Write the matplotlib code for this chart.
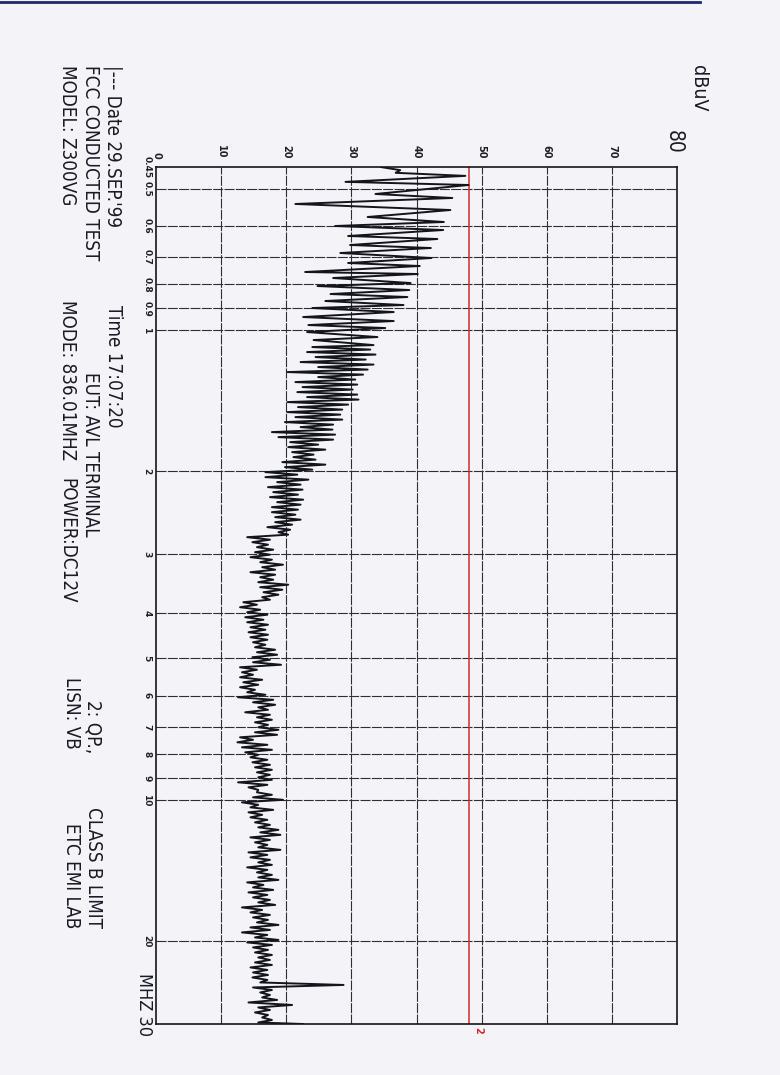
import matplotlib
matplotlib.use('Agg')
import matplotlib.pyplot as plt
from matplotlib import font_manager as fm
from matplotlib.ticker import NullLocator, NullFormatter
from matplotlib.lines import Line2D

# ---------------- data ----------------
freq_mhz = [
    0.450, 0.457, 0.463, 0.470, 0.484, 0.4915, 0.5136, 0.5238, 0.5394, 0.5556,
    0.5749, 0.5892, 0.6009, 0.6128, 0.6310, 0.6404, 0.6595, 0.6693, 0.6859, 0.7029,
    0.7203, 0.7310, 0.7528, 0.7602, 0.7753, 0.7946, 0.8064, 0.8223, 0.8386, 0.8510,
    0.8678, 0.8851, 0.8982, 0.9160, 0.9387, 0.9573, 0.9763, 0.9907, 1.0104, 1.0354,
    1.0507, 1.0770,
    1.0875, 1.1009, 1.1145, 1.1282, 1.1421, 1.1562, 1.1705, 1.1849, 1.1995, 1.2143,
    1.2293, 1.2445, 1.2598, 1.2753, 1.2911, 1.3070, 1.3231, 1.3394, 1.3560, 1.3727,
    1.3896, 1.4067, 1.4241, 1.4417, 1.4595, 1.4775, 1.4957, 1.5141, 1.5328, 1.5517,
    1.5709, 1.5903, 1.6099, 1.6297, 1.6498, 1.6701, 1.6908, 1.7116, 1.7327, 1.7541,
    1.7757, 1.7976, 1.8198, 1.8422, 1.8650, 1.8880, 1.9112, 1.9348, 1.9587, 1.9828,
    2.0073, 2.0320, 2.0571, 2.0825, 2.1082, 2.1342, 2.1605, 2.1871, 2.2141, 2.2414,
    2.2691, 2.2971, 2.3254, 2.3541, 2.3831, 2.4125, 2.4423, 2.4724, 2.5029, 2.5338,
    2.5650, 2.5966, 2.6287, 2.6611, 2.6939, 2.7271, 2.7608, 2.7948, 2.8293, 2.8642,
    2.8996, 2.9354, 2.9715, 3.0081, 3.0453, 3.0828, 3.1209, 3.1594, 3.1983, 3.2377,
    3.2777, 3.3181, 3.3591, 3.4005, 3.4425, 3.4849, 3.5279, 3.5714, 3.6155, 3.6601,
    3.7052, 3.7509, 3.7972, 3.8440, 3.8914, 3.9394, 3.9880, 4.0372, 4.0870, 4.1374,
    4.1884, 4.2400, 4.2924, 4.3453, 4.3989, 4.4531, 4.5081, 4.5637, 4.6200, 4.6770,
    4.7347, 4.7931, 4.8522, 4.9120, 4.9726, 5.0339, 5.0961, 5.1589, 5.2226, 5.2870,
    5.3522, 5.4182, 5.4850, 5.5526, 5.6212, 5.6905, 5.7607, 5.8317, 5.9037, 5.9765,
    6.0502, 6.1248, 6.2004, 6.2768, 6.3543, 6.4326, 6.5120, 6.5923, 6.6736, 6.7559,
    6.8393, 6.9236, 7.0090, 7.0954, 7.1830, 7.2716, 7.3613, 7.4521, 7.5440, 7.6370,
    7.7312, 7.8265, 7.9231, 8.0208, 8.1198, 8.2199, 8.3213, 8.4239, 8.5278, 8.6329,
    8.7395, 8.8473, 8.9564, 9.0668, 9.1787, 9.2919, 9.4065, 9.5225, 9.6400, 9.7589,
    9.8793, 10.001, 10.124, 10.249, 10.376, 10.504, 10.633, 10.764, 10.897, 11.031,
    11.168, 11.306, 11.445, 11.586, 11.729, 11.874, 12.020, 12.168, 12.318, 12.470,
    12.624, 12.780, 12.937, 13.097, 13.258, 13.421, 13.588, 13.756, 13.925, 14.097,
    14.271, 14.447, 14.625, 14.805, 14.988, 15.173, 15.360, 15.549, 15.741, 15.935,
    16.132, 16.331, 16.532, 16.736, 16.943, 17.152, 17.363, 17.577, 17.794, 18.013,
    18.236, 18.461, 18.688, 18.918, 19.152, 19.388, 19.628, 19.870, 20.115, 20.363,
    20.614, 20.868, 21.126, 21.387, 21.650, 21.917, 22.187, 22.461, 22.738, 23.018,
    23.302, 23.589, 23.881, 24.175, 24.473, 24.775, 25.081, 25.390, 25.703, 26.020,
    26.341, 26.666, 26.995, 27.328, 27.665, 28.006, 28.352, 28.702, 29.056, 29.414,
    29.777, 30.000,
]
level_dbuv = [
    34.5, 37.5, 36.8, 47.5, 29.1, 48.0, 33.7, 45.5, 21.4, 45.2,
    32.5, 44.2, 27.5, 44.1, 29.5, 43.2, 29.8, 42.2, 28.3, 42.3,
    29.5, 40.5, 22.9, 40.2, 27.2, 39.1, 24.8, 38.9, 26.8, 38.6,
    26.0, 38.0, 24.0, 36.5, 22.6, 36.5, 23.4, 35.2, 23.2, 34.0,
    24.2, 33.4,
    24.0, 32.9, 23.2, 33.7, 24.5, 32.2, 22.2, 33.4, 24.9, 32.5,
    20.2, 31.8, 24.9, 30.6, 21.4, 30.9, 22.5, 30.2, 21.7, 30.9,
    23.2, 31.1, 20.2, 29.5, 21.8, 28.6, 20.2, 28.3, 21.4, 28.6,
    19.8, 27.2, 22.2, 27.1, 17.8, 27.5, 18.8, 27.2, 20.6, 24.9,
    20.3, 26.0, 20.9, 24.2, 21.1, 24.5, 19.4, 26.0, 19.8, 24.0,
    16.8, 21.7, 16.8, 23.4, 18.6, 22.2, 17.2, 22.5, 18.0, 21.8,
    17.5, 22.6, 18.6, 22.2, 17.8, 21.8, 17.8, 21.4, 18.3, 22.2,
    18.3, 20.9, 17.1, 20.6, 18.8, 20.3, 14.0, 17.5, 14.8, 17.2,
    15.5, 18.0, 15.2, 17.5, 14.5, 17.8, 16.0, 19.5, 16.3, 18.3,
    14.5, 18.3, 16.0, 18.0, 15.7, 20.3, 16.0, 19.4, 16.5, 18.8,
    16.3, 17.5, 13.4, 15.5, 12.9, 16.0, 14.0, 17.1, 13.7, 16.5,
    14.0, 17.2, 14.5, 16.8, 14.2, 17.2, 14.5, 17.1, 14.9, 16.8,
    15.2, 18.3, 15.5, 18.6, 14.8, 17.5, 14.9, 19.2, 12.9, 15.5,
    13.2, 14.9, 12.9, 16.3, 13.4, 15.7, 12.9, 15.2, 14.0, 16.8,
    12.6, 18.0, 14.9, 18.3, 15.7, 17.2, 13.7, 17.5, 15.5, 17.8,
    15.2, 17.2, 15.7, 18.8, 15.2, 18.6, 12.9, 14.9, 12.5, 17.1,
    13.2, 17.8, 13.7, 15.7, 14.5, 17.1, 14.8, 17.5, 15.2, 17.8,
    15.5, 17.5, 15.7, 17.8, 12.6, 17.1, 14.2, 15.7, 15.5, 17.8,
    14.9, 19.5, 13.2, 15.7, 14.5, 18.0, 14.2, 16.3, 14.5, 17.1,
    15.2, 17.5, 15.7, 18.8, 16.0, 19.1, 14.5, 17.5, 15.2, 17.1,
    15.7, 19.1, 14.2, 17.1, 14.5, 17.5, 15.7, 17.8, 14.0, 17.1,
    15.5, 17.8, 15.7, 18.8, 14.0, 16.5, 14.9, 18.0, 14.2, 17.1,
    14.9, 17.5, 15.7, 18.3, 13.2, 16.3, 14.5, 17.5, 14.9, 17.2,
    15.5, 18.8, 14.5, 17.5, 13.2, 17.1, 15.2, 18.8, 14.0, 17.8,
    14.9, 17.2, 15.2, 17.8, 15.7, 17.5, 15.2, 17.8, 14.5, 17.1,
    14.9, 17.2, 14.8, 17.1, 16.0, 28.8, 14.9, 17.8, 16.0, 17.5,
    16.3, 18.6, 14.2, 20.9, 15.7, 17.5, 15.2, 17.2, 16.3, 17.8,
    15.7, 22.6,
]
limit_dbuv = 48.0
limit_label = "2"

db_ticks = [0, 10, 20, 30, 40, 50, 60, 70]
db_labels = ["0", "10", "20", "30", "40", "50", "60", "70"]
db_max_label = "80"
db_unit = "dBuV"

freq_ticks = [0.45, 0.5, 0.6, 0.7, 0.8, 0.9, 1, 2, 3, 4, 5, 6, 7, 8, 9, 10, 20]
freq_labels = ["0.45", "0.5", "0.6", "0.7", "0.8", "0.9", "1", "2", "3", "4",
               "5", "6", "7", "8", "9", "10", "20"]
freq_end_label = "MHZ 30"

header_line1 = ["|--- Date 29.SEP.'99", "Time 17:07:20"]
header_line2 = ["FCC CONDUCTED TEST", "EUT: AVL TERMINAL", "2: QP.,", "CLASS B LIMIT"]
header_line3 = ["MODEL: Z300VG", "MODE: 836.01MHZ", "POWER:DC12V", "LISN: VB", "ETC EMI LAB"]

# ---------------- fonts ----------------
_names = {f.name for f in fm.fontManager.ttflist}
_cond = any(f.name == 'DejaVu Sans' and 'condensed' in str(f.stretch) for f in fm.fontManager.ttflist)
if 'Liberation Sans Narrow' in _names:
    HFONT = dict(family='Liberation Sans Narrow')
elif _cond:
    HFONT = dict(family='DejaVu Sans', stretch='condensed')
else:
    HFONT = dict(family='DejaVu Sans Mono')
TFONT = dict(family='DejaVu Sans', weight='bold')

# ---------------- figure ----------------
W, H = 780, 1075
PAPER = '#f4f4f8'
INK = '#1a1a26'
fig = plt.figure(figsize=(W / 100, H / 100), dpi=100, facecolor=PAPER)
ax = fig.add_axes([156 / W, 1 - 1024 / H, 521 / W, 857 / H])
ax.set_facecolor(PAPER)

ax.set_xlim(0, 80)
ax.set_yscale('log')
ax.set_ylim(30, 0.45)
ax.yaxis.set_minor_locator(NullLocator())
ax.yaxis.set_minor_formatter(NullFormatter())

grid_kw = dict(color='#2e2e36', lw=0.8, ls=(0, (9, 1.2)), zorder=1)
for f in freq_ticks[1:]:
    ax.axhline(f, **grid_kw)
for d in db_ticks[1:]:
    ax.axvline(d, **grid_kw)

ax.axvline(limit_dbuv, color='#d42a2a', lw=1.1, zorder=2)
ax.plot(level_dbuv, freq_mhz, color='#14141c', lw=1.4, zorder=3)

for s in ax.spines.values():
    s.set_linewidth(1.2)
    s.set_color('#15151a')

ax.set_yticks(freq_ticks)
ax.set_yticklabels(freq_labels, rotation=-90, va='center', fontsize=6.5, **TFONT)
ax.tick_params(axis='y', length=0, pad=3.5, colors='#20202a')

ax.xaxis.tick_top()
ax.set_xticks(db_ticks)
ax.set_xticklabels(db_labels, rotation=-90, ha='center', va='bottom', fontsize=7, **TFONT)
ax.tick_params(axis='x', length=0, pad=6, colors='#20202a')


def ftext(px, py, s, va='top', size=13.5, color=INK, font=None, ha='center'):
    fig.text(px / W, 1 - py / H, s, rotation=-90, ha=ha, va=va, fontsize=size,
             color=color, **(font or HFONT))


# axis end labels
ftext(674, 142, db_max_label, va='center', size=15)
ftext(698, 65, db_unit, va='top', size=14)
ftext(144, 1036, freq_end_label, va='bottom', size=13)
ftext(478, 1030, limit_label, va='center', size=7, color='#d42a2a', font=TFONT)

# header block
ftext(113, 65, header_line1[0])
ftext(113, 305, header_line1[1])
ftext(90, 65, header_line2[0])
ftext(90, 372, header_line2[1])
ftext(93, 700, header_line2[2])
ftext(93, 928, header_line2[3], va='bottom')
ftext(67, 65, header_line3[0])
ftext(67, 300, header_line3[1])
ftext(67, 478, header_line3[2])
ftext(71, 677, header_line3[3])
ftext(71, 928, header_line3[4], va='bottom')

# scanner edge artefact along the top of the sheet
fig.add_artist(Line2D([0, 700 / W], [1 - 1.5 / H, 1 - 1.5 / H], transform=fig.transFigure,
                      color='#1d2a6e', lw=2))

fig.savefig('out.png', dpi=100, facecolor=PAPER)
